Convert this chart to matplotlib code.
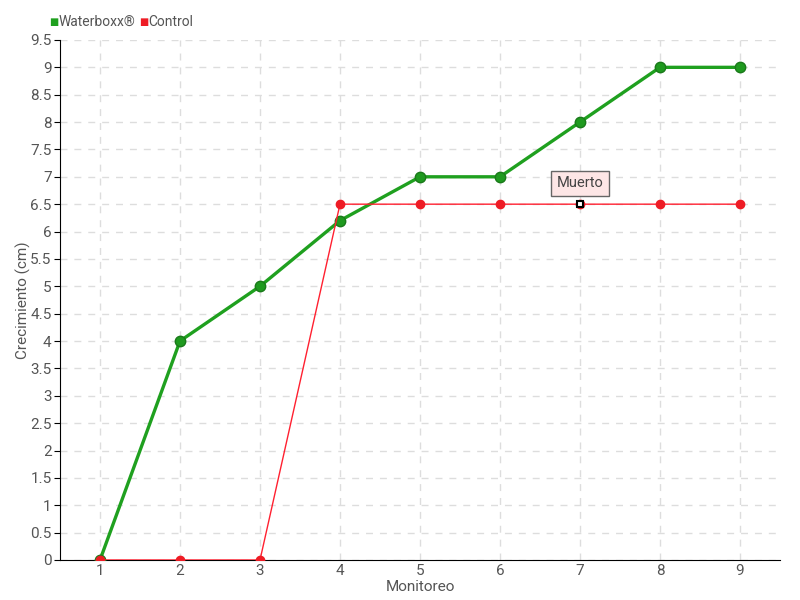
import matplotlib
matplotlib.use("Agg")
import matplotlib.pyplot as plt

monitoreo = [1, 2, 3, 4, 5, 6, 7, 8, 9]
waterboxx = [0, 4, 5, 6.2, 7, 7, 8, 9, 9]
control = [0, 0, 0, 6.5, 6.5, 6.5, 6.5, 6.5, 6.5]
yticks = [0, 0.5, 1, 1.5, 2, 2.5, 3, 3.5, 4, 4.5, 5, 5.5, 6, 6.5, 7, 7.5, 8, 8.5, 9, 9.5]

plt.rcParams["font.family"] = ["Roboto", "DejaVu Sans"]
text_color = "#555555"

fig = plt.figure(figsize=(8, 6), dpi=100)
ax = fig.add_axes([0.075, 0.0667, 0.9, 0.8667])

ax.plot(monitoreo, waterboxx, color="#1fa01f", linewidth=2.4, marker="o",
        markersize=7.5, markerfacecolor="#1f9a1f", markeredgecolor="#1a7a1a",
        zorder=3)
ax.plot(monitoreo, control, color="#ff2030", linewidth=1, marker="o",
        markersize=6, markerfacecolor="#ee1c25", markeredgecolor="#ee1c25",
        zorder=4)

# highlighted point
ax.plot([7], [6.5], marker="s", markersize=4, markerfacecolor="white",
        markeredgecolor="black", markeredgewidth=1.5, zorder=6)
ax.annotate("Muerto", xy=(7, 6.5), xytext=(7, 6.88), ha="center", va="center",
            fontsize=10.5, color="#444444",
            bbox=dict(boxstyle="square,pad=0.4", facecolor="#fde6e6",
                      edgecolor="#666666", linewidth=1),
            zorder=7)

ax.set_xlim(0.5, 9.5)
ax.set_ylim(0, 9.5)
ax.set_xticks(monitoreo)
ax.set_yticks(yticks)
ax.set_yticklabels([f"{v:g}" for v in yticks])
ax.tick_params(axis="both", colors="black", labelcolor=text_color, labelsize=11)
ax.tick_params(axis="x", length=0, pad=3)
ax.tick_params(axis="y", length=4, direction="out", pad=2)

for s in ["top", "right"]:
    ax.spines[s].set_visible(False)
ax.spines["left"].set_color("black")
ax.spines["bottom"].set_color("black")

ax.grid(True, linestyle=(0, (5, 5)), color="#dddddd", linewidth=1)
ax.set_axisbelow(True)

ax.set_xlabel("Monitoreo", color=text_color, fontsize=11)
ax.xaxis.set_label_coords(0.5, -0.038)
ax.set_ylabel("Crecimiento (cm)", color=text_color, fontsize=11)
ax.yaxis.set_label_coords(-0.04, 0.5)

# legend drawn as text at the top left
fig.text(0.061, 0.963, "\u25a0", color="#1fa01f", fontsize=7, va="center")
fig.text(0.073, 0.963, "Waterboxx\u00ae", color=text_color, fontsize=10, va="center")
fig.text(0.174, 0.963, "\u25a0", color="#ee1c25", fontsize=7, va="center")
fig.text(0.185, 0.963, "Control", color=text_color, fontsize=10, va="center")

fig.savefig("out.png", dpi=100)
